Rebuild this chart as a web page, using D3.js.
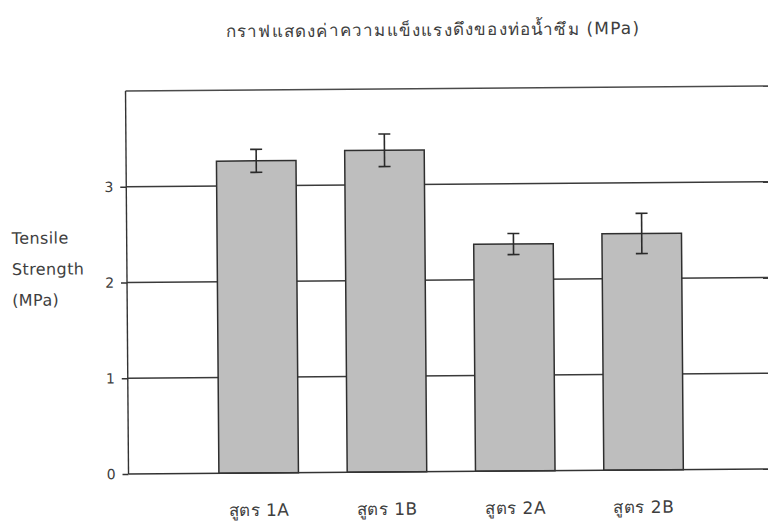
<!DOCTYPE html>
<html>
<head>
<meta charset="utf-8">
<script src="https://cdn.jsdelivr.net/npm/d3@7"></script>
<style>
  html, body { margin: 0; padding: 0; background: #fff; }
  svg { display: block; }
  text { font-family: "DejaVu Sans", "Liberation Sans", sans-serif; fill: #3e3e3e; }
</style>
</head>
<body>
<svg id="chart" width="768" height="524"></svg>
<script>
// Tensile strength of the seepage pipe for each formula (mean ± error)
const categories = ["สูตร 1A", "สูตร 1B", "สูตร 2A", "สูตร 2B"];
const values = [3.26, 3.36, 2.37, 2.47];
const errors = [0.12, 0.17, 0.11, 0.21];
const yTicks = [0, 1, 2, 3];
const yMax = 4;
const title = "กราฟแสดงค่าความแข็งแรงดึงของท่อน้ำซึม (MPa)";
const yLabelLines = ["Tensile", "Strength", "(MPa)"];

const svg = d3.select("#chart");
const plot = { left: 127, top: 91, right: 800, bottom: 474 };

// whole sheet sits at a slight tilt
const g = svg.append("g").attr("transform", `rotate(-0.45, ${plot.left}, 280)`);

const x = d3.scaleBand()
  .domain(categories)
  .range([193, 706.2])
  .paddingInner(0.38)
  .paddingOuter(0.19);

const y = d3.scaleLinear().domain([0, yMax]).range([plot.bottom, plot.top]);

// plot area frame (top edge)
g.append("line")
  .attr("x1", plot.left).attr("x2", plot.right)
  .attr("y1", y(yMax)).attr("y2", y(yMax))
  .attr("stroke", "#4a4a4a").attr("stroke-width", 1.4);

// horizontal gridlines
g.append("g")
  .selectAll("line")
  .data(yTicks.filter(d => d > 0))
  .join("line")
  .attr("x1", plot.left).attr("x2", plot.right)
  .attr("y1", d => y(d)).attr("y2", d => y(d))
  .attr("stroke", "#3a3a3a").attr("stroke-width", 1.4);

// y axis with outward ticks
const yAxis = g.append("g")
  .attr("transform", `translate(${plot.left},0)`)
  .call(d3.axisLeft(y).tickValues(yTicks).tickSize(6).tickPadding(7).tickFormat(d3.format("d")));
yAxis.select(".domain").attr("stroke", "#333").attr("stroke-width", 1.4)
  .attr("d", `M0,${y(0)}V${y(yMax)}`);
yAxis.selectAll(".tick line").attr("stroke", "#333").attr("stroke-width", 1.4);
yAxis.selectAll(".tick text")
  .style("font-family", '"DejaVu Sans", sans-serif')
  .attr("font-size", 14).attr("fill", "#444");

// bars
g.append("g")
  .selectAll("rect")
  .data(categories)
  .join("rect")
  .attr("x", d => x(d))
  .attr("width", x.bandwidth())
  .attr("y", (d, i) => y(values[i]))
  .attr("height", (d, i) => y(0) - y(values[i]))
  .attr("fill", "#bebebe")
  .attr("stroke", "#2f2f2f")
  .attr("stroke-width", 1.5);

// error bars
const eb = g.append("g").attr("stroke", "#2a2a2a").attr("stroke-width", 1.6);
categories.forEach((c, i) => {
  const cx = x(c) + x.bandwidth() / 2;
  const hi = y(values[i] + errors[i]), lo = y(values[i] - errors[i]);
  eb.append("line").attr("x1", cx).attr("x2", cx).attr("y1", hi).attr("y2", lo);
  eb.append("line").attr("x1", cx - 6).attr("x2", cx + 6).attr("y1", hi).attr("y2", hi);
  eb.append("line").attr("x1", cx - 6).attr("x2", cx + 6).attr("y1", lo).attr("y2", lo);
});

// x axis baseline
g.append("line")
  .attr("x1", plot.left).attr("x2", plot.right)
  .attr("y1", y(0)).attr("y2", y(0))
  .attr("stroke", "#333").attr("stroke-width", 1.4);

// category labels
g.append("g")
  .selectAll("text")
  .data(categories)
  .join("text")
  .attr("x", d => x(d) + x.bandwidth() / 2)
  .attr("y", 517)
  .attr("text-anchor", "middle")
  .attr("font-size", 17)
  .attr("letter-spacing", 0.5)
  .text(d => d);

// y axis title
g.append("g")
  .selectAll("text")
  .data(yLabelLines)
  .join("text")
  .attr("x", 12)
  .attr("y", (d, i) => 243 + i * 31)
  .attr("font-size", 16)
  .attr("letter-spacing", 0.4)
  .text(d => d);

// chart title
g.append("text")
  .attr("x", 435).attr("y", 38)
  .attr("text-anchor", "middle")
  .attr("font-size", 17)
  .attr("letter-spacing", 1.2)
  .text(title);
</script>
</body>
</html>
